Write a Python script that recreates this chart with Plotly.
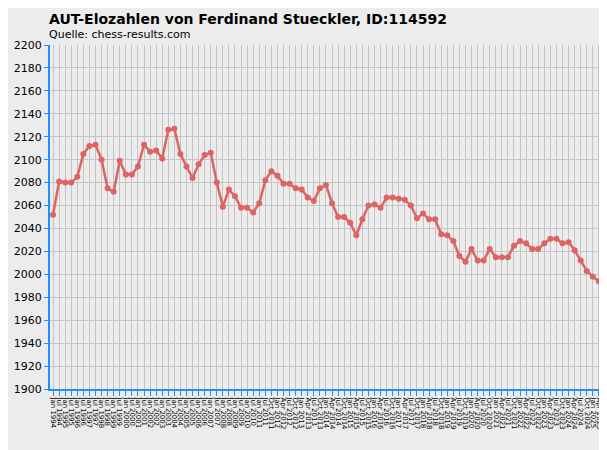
import plotly.graph_objects as go

elo = [2052, 2081, 2080, 2080, 2085, 2105, 2112, 2113, 2100, 2075,
       2072, 2099, 2087, 2087, 2094, 2113, 2107, 2108, 2101, 2126,
       2127, 2105, 2094, 2084, 2096, 2104, 2106, 2080, 2059, 2074,
       2068, 2058, 2058, 2054, 2062, 2082, 2090, 2086, 2079, 2079,
       2075, 2074, 2067, 2064, 2075, 2078, 2062, 2050, 2050, 2045,
       2034, 2048, 2060, 2061, 2058, 2067, 2067, 2066, 2065, 2060,
       2049, 2053, 2048, 2048, 2035, 2034, 2029, 2016, 2011, 2022,
       2012, 2012, 2022, 2015, 2015, 2015, 2025, 2029, 2027, 2022,
       2022, 2027, 2031, 2031, 2027, 2028, 2021, 2012, 2003, 1998,
       1994, 1994]

# rating periods: half-yearly up to 2011, quarterly afterwards
semi = [f"{m} {y}" for y in range(1994, 2012) for m in ("Jan", "Jul")]
quart = ["Oct 2011"] + [f"{m} {y}" for y in range(2012, 2026) for m in ("Jan", "Apr", "Jul", "Oct")]
labels = (semi + quart)[:len(elo)]

fig = go.Figure(go.Scatter(
    x=labels, y=elo, mode="lines+markers",
    line=dict(color="#de6464", width=2.5),
    marker=dict(color="#de6464", size=6),
))

fig.update_layout(
    width=607, height=450,
    paper_bgcolor="#ececec", plot_bgcolor="#ececec",
    margin=dict(l=42, r=7, t=37, b=69),
    font=dict(family="DejaVu Sans", size=11, color="black"),
    showlegend=False,
)
fig.add_annotation(text="<b>AUT-Elozahlen von Ferdinand Stueckler, ID:114592</b>",
                   xref="paper", yref="paper", x=-0.005, y=1.0, yshift=36, xanchor="left",
                   yanchor="top", showarrow=False, font=dict(size=14))
fig.add_annotation(text="Quelle: chess-results.com", xref="paper", yref="paper",
                   x=-0.005, y=1.0, yshift=19, xanchor="left", yanchor="top",
                   showarrow=False, font=dict(size=11))
fig.update_xaxes(type="category", tickangle=90, tickfont=dict(size=7),
                 tickmode="array", tickvals=labels, ticktext=labels,
                 automargin=False,
                 showgrid=True, gridcolor="#c4c4c4", showline=True,
                 linecolor="#1e90ff", linewidth=2, ticks="outside",
                 tickcolor="#1e90ff", ticklen=5, range=[-0.5, len(elo) - 0.5])
fig.update_yaxes(range=[1900, 2200], dtick=20, showgrid=True, gridcolor="#c4c4c4",
                 automargin=False,
                 showline=True, linecolor="#1e90ff", linewidth=2, ticks="outside",
                 tickcolor="#1e90ff", ticklen=4)

fig.write_html("out.html")
